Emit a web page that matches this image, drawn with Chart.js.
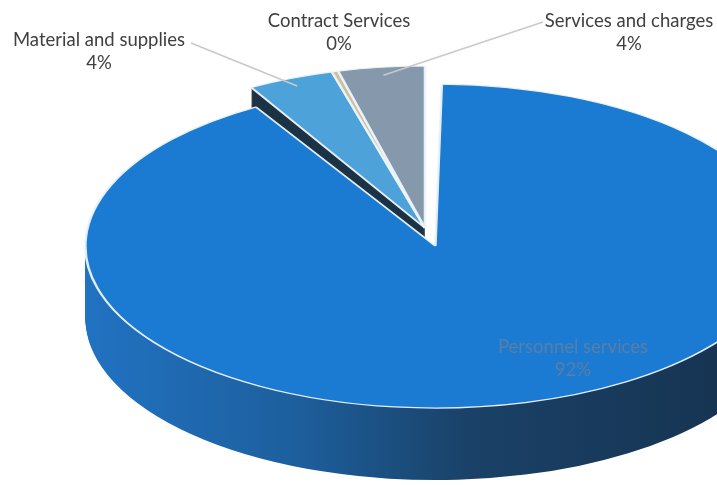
<!DOCTYPE html>
<html>
<head>
<meta charset="utf-8">
<script src="https://cdn.jsdelivr.net/npm/chart.js@4/dist/chart.umd.min.js"></script>
<style>
  html, body { margin: 0; padding: 0; background: #fff; }
  #wrap { width: 717px; height: 485px; }
</style>
</head>
<body>
<div id="wrap"><canvas id="pie" width="717" height="485"></canvas></div>
<script>
const categories = ["Personnel services", "Material and supplies", "Contract Services", "Services and charges"];
const amounts = [92, 4, 0.3, 4];
const topColors = ["#1b7bd2", "#4ea2da", "#cfc0a2", "#8698ab"];
const sideColors = [null, "#1c3245", "#7d6e58", "#566879"];
const explode = [100, 0, 0, 0];

// pie centre on the page, flattened disc radii and wall height
const DISC = { x: 425, y: 228, rx: 350, ry: 162, depth: 72 };
// label anchors (name line centre); percentage goes one line below
const LABELS = [
  { x: 573, y: 347, color: "#5b7ea6", lead: null },
  { x: 99, y: 40, color: "#404040", lead: [191, 43] },
  { x: 339, y: 21, color: "#404040", lead: null },
  { x: 629, y: 21, color: "#404040", lead: [543, 22] }
];

// radius every slice is drawn with (the exploded one grows by offset/4)
function drawnRadius(arcs) {
  return arcs[0].outerRadius + (arcs[0].options.offset || 0) / 4;
}

function discTransform(ctx, arcs, dy) {
  const a = arcs[0], r = drawnRadius(arcs);
  const sx = DISC.rx / r, sy = DISC.ry / r;
  ctx.setTransform(sx, 0, 0, sy, DISC.x - sx * a.x, DISC.y - sy * a.y + dy);
}

function toScreen(arcs, px, py) {
  const a = arcs[0], r = drawnRadius(arcs);
  return [DISC.x + DISC.rx / r * (px - a.x), DISC.y + DISC.ry / r * (py - a.y)];
}

// draw one arc element with a different fill and no border
function drawArcAs(ctx, a, fill) {
  const saved = a.options;
  a.options = Object.assign({}, saved, { backgroundColor: fill, borderWidth: 0 });
  a.draw(ctx);
  a.options = saved;
}

const pie3d = {
  id: "pie3d",
  afterDatasetsUpdate(chart) {
    // give the non-exploded slices the same radius as the exploded one
    const arcs = chart.getDatasetMeta(0).data;
    const r = drawnRadius(arcs);
    arcs.forEach((a, i) => { if (i > 0) a.outerRadius = r; });
  },
  beforeDatasetsDraw(chart) {
    const ctx = chart.ctx;
    const arcs = chart.getDatasetMeta(0).data;
    const a0 = arcs[0], r = drawnRadius(arcs);
    ctx.save();
    // side walls: stacked copies of each slice, bottom up
    const grad = ctx.createLinearGradient(a0.x - r, 0, a0.x + r, 0);
    grad.addColorStop(0, "#2172c2");
    grad.addColorStop(0.3, "#1d5f9d");
    grad.addColorStop(0.55, "#1a4167");
    grad.addColorStop(1, "#16314d");
    for (let d = DISC.depth; d >= 1; d--) {
      discTransform(ctx, arcs, d);
      arcs.forEach((a, i) => drawArcAs(ctx, a, sideColors[i] || grad));
    }
    // top faces are drawn by the pie controller under the same flattening
    discTransform(ctx, arcs, 0);
  },
  afterDatasetsDraw(chart) {
    chart.ctx.restore();
  },
  afterDraw(chart) {
    const ctx = chart.ctx;
    const arcs = chart.getDatasetMeta(0).data;
    const total = amounts.reduce((s, v) => s + v, 0);
    ctx.save();
    ctx.setTransform(1, 0, 0, 1, 0, 0);
    // leader lines
    ctx.strokeStyle = "#c9c9c9";
    ctx.lineWidth = 1.5;
    arcs.forEach((a, i) => {
      const lead = LABELS[i].lead;
      if (!lead) return;
      const mid = (a.startAngle + a.endAngle) / 2;
      const r = a.outerRadius * 0.95;
      const p = toScreen(arcs, a.x + Math.cos(mid) * r, a.y + Math.sin(mid) * r);
      ctx.beginPath();
      ctx.moveTo(lead[0], lead[1]);
      ctx.lineTo(p[0], p[1]);
      ctx.stroke();
    });
    ctx.font = "18.5px Lato, 'Liberation Sans', sans-serif";
    ctx.textAlign = "center";
    ctx.textBaseline = "middle";
    categories.forEach((name, i) => {
      const l = LABELS[i];
      ctx.fillStyle = l.color;
      ctx.fillText(name, l.x, l.y);
      ctx.fillText(Math.round(amounts[i] / total * 100) + "%", l.x, l.y + 23);
    });
    ctx.restore();
  }
};

new Chart(document.getElementById("pie"), {
  type: "pie",
  data: {
    labels: categories,
    datasets: [{
      data: amounts,
      backgroundColor: topColors,
      borderColor: "rgba(236,244,252,0.95)",
      borderWidth: 1.6,
      offset: explode
    }]
  },
  options: {
    responsive: false,
    animation: false,
    devicePixelRatio: 1,
    plugins: { legend: { display: false }, tooltip: { enabled: false } }
  },
  plugins: [pie3d]
});
</script>
</body>
</html>
